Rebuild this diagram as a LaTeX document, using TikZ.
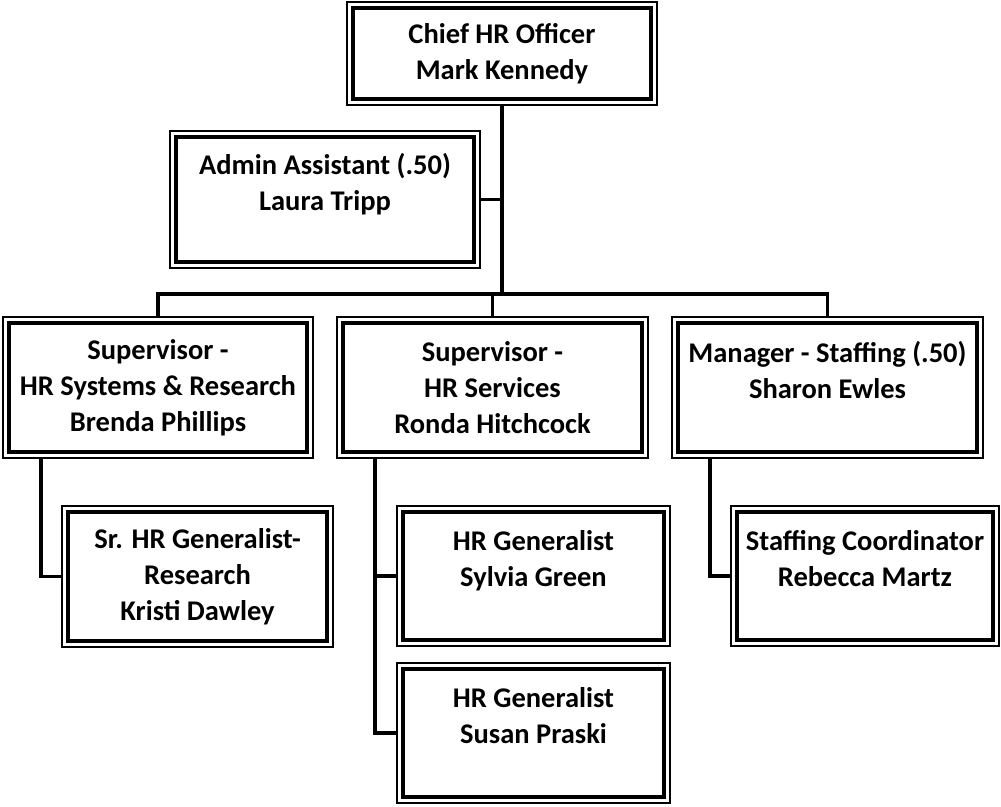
\documentclass[tikz,border=0pt]{standalone}
\usepackage{fontspec}
\setmainfont{Carlito}
\begin{document}
\begin{tikzpicture}[x=1pt,y=-1pt,
  orgbox/.style={draw, line width=1.3pt, inner sep=0pt, outer sep=0pt,
    align=center, font=\fontsize{28.5}{36}\selectfont\bfseries,
    path picture={\draw[line width=4.2pt]
      ([xshift=5.7pt,yshift=-5.7pt]path picture bounding box.north west) rectangle
      ([xshift=-5.7pt,yshift=5.7pt]path picture bounding box.south east);}},
  link/.style={line width=3.9pt}]
\useasboundingbox (0,0) rectangle (1001,806);
\node[orgbox, minimum width=310pt, minimum height=103pt] (chief) at (502,53.5) {Chief HR Officer\\Mark Kennedy};
\node[orgbox, minimum width=310pt, minimum height=137pt] (admin) at (325,199.5) {Admin Assistant (.50)\\Laura Tripp\\~};
\node[orgbox, minimum width=310pt, minimum height=141pt] (sup1) at (158,387.5) {Supervisor -\\HR Systems \& Research\\Brenda Phillips};
\node[orgbox, minimum width=311pt, minimum height=141pt] (sup2) at (492.5,387.5) {Supervisor -\\HR Services\\Ronda Hitchcock};
\node[orgbox, minimum width=311pt, minimum height=141pt] (mgr) at (827.5,387.5) {Manager - Staffing (.50)\\Sharon Ewles\\~};
\node[orgbox, minimum width=271pt, minimum height=141pt] (srhr) at (197.5,576.5) {Sr. HR Generalist-\\Research\\Kristi Dawley};
\node[orgbox, minimum width=273pt, minimum height=140pt] (gen1) at (533.5,576) {HR Generalist\\Sylvia Green\\~};
\node[orgbox, minimum width=273pt, minimum height=140pt] (gen2) at (533.5,733) {HR Generalist\\Susan Praski\\~};
\node[orgbox, minimum width=268pt, minimum height=140pt] (coord) at (865,576) {Staffing Coordinator\\Rebecca Martz\\~};
\coordinate (bar) at (0,294);
\coordinate (t1) at ([xshift=38pt]sup1.south west);
\coordinate (t2) at ([xshift=38pt]sup2.south west);
\coordinate (t3) at ([xshift=38pt]mgr.south west);
\draw[link] (chief.south) -- (chief.south |- bar);
\draw[link] (admin.east) -- (admin.east -| chief.south);
\draw[link] (sup1.north) -- (sup1.north |- bar) -- (mgr.north |- bar) -- (mgr.north);
\draw[link] (sup2.north) -- (sup2.north |- bar);
\draw[link] (t1) |- (srhr.west);
\draw[link] (t2) |- (gen2.west);
\draw[link] (gen1.west) -- (gen1.west -| t2);
\draw[link] (t3) |- (coord.west);
\end{tikzpicture}
\end{document}
